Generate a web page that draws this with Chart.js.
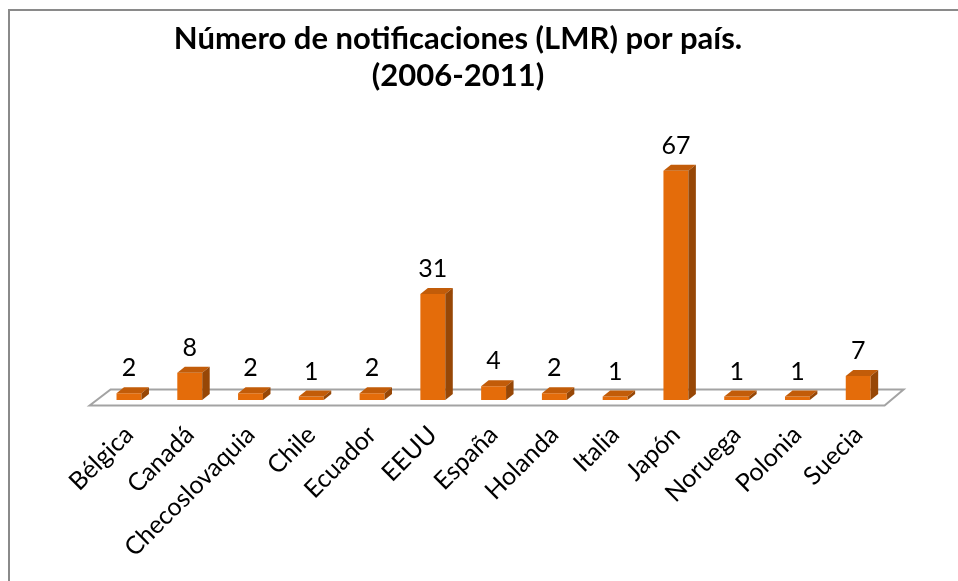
<!DOCTYPE html>
<html><head><meta charset="utf-8">
<script src="https://cdn.jsdelivr.net/npm/chart.js@4.4.1/dist/chart.umd.min.js"></script>
<style>html,body{margin:0;padding:0;background:#fff;overflow:hidden}</style>
</head><body>
<canvas id="c" width="958" height="581"></canvas>
<script>
// ---- data ----
const categories = ['Bélgica','Canadá','Checoslovaquia','Chile','Ecuador','EEUU','España','Holanda','Italia','Japón','Noruega','Polonia','Suecia'];
const values = [2, 8, 2, 1, 2, 31, 4, 2, 1, 67, 1, 1, 7];
const titleLines = ['Número de notificaciones (LMR) por país.', '(2006-2011)'];
const yMin = 0;
const yMax = 80;

// ---- style ----
const FONT = 'Lato, "Open Sans", sans-serif';
const frontColor = '#E46C0A';
const topColor = '#C25C09';
const sideColor = '#974706';
const depthX = 7.5, depthY = -6;

const frame = {
  id: 'frame',
  beforeDraw(chart) {
    const ctx = chart.ctx;
    ctx.save();
    ctx.fillStyle = '#fff';
    ctx.fillRect(0, 0, chart.width, chart.height);
    ctx.strokeStyle = '#8a8a8a';
    ctx.lineWidth = 2;
    ctx.strokeRect(9, 10, chart.width + 50, chart.height + 50);
    ctx.restore();
  }
};

const floor3d = {
  id: 'floor3d',
  beforeDatasetsDraw(chart) {
    const ctx = chart.ctx;
    const {left, right} = chart.chartArea;
    const base = chart.scales.y.getPixelForValue(0);
    ctx.save();
    ctx.strokeStyle = '#a3a3a3';
    ctx.lineWidth = 2;
    ctx.beginPath();
    ctx.moveTo(left - 9, base + 5.5);
    ctx.lineTo(left + 12, base - 10.5);
    ctx.lineTo(right + 15, base - 10.5);
    ctx.lineTo(right - 4, base + 5.5);
    ctx.closePath();
    ctx.stroke();
    ctx.restore();
  }
};

const bars3d = {
  id: 'bars3d',
  afterDatasetsDraw(chart) {
    const ctx = chart.ctx;
    const meta = chart.getDatasetMeta(0);
    ctx.save();
    meta.data.forEach((bar, i) => {
      const {x, y, base, width} = bar.getProps(['x', 'y', 'base', 'width'], true);
      const l = x - width / 2, r = x + width / 2;
      ctx.fillStyle = topColor;
      ctx.beginPath();
      ctx.moveTo(l, y); ctx.lineTo(l + depthX, y + depthY);
      ctx.lineTo(r + depthX, y + depthY); ctx.lineTo(r, y);
      ctx.closePath(); ctx.fill();
      ctx.fillStyle = sideColor;
      ctx.beginPath();
      ctx.moveTo(r, y); ctx.lineTo(r + depthX, y + depthY);
      ctx.lineTo(r + depthX, base + depthY); ctx.lineTo(r, base);
      ctx.closePath(); ctx.fill();
      ctx.fillStyle = '#000';
      ctx.font = '25px ' + FONT;
      ctx.textAlign = 'center';
      ctx.textBaseline = 'middle';
      ctx.fillText(String(values[i]), x, y + depthY - 19);
    });
    ctx.restore();
  }
};

new Chart(document.getElementById('c'), {
  type: 'bar',
  data: {
    labels: categories,
    datasets: [{
      data: values,
      backgroundColor: frontColor,
      borderWidth: 0,
      categoryPercentage: 1,
      barPercentage: 0.41
    }]
  },
  options: {
    responsive: false,
    animation: false,
    events: [],
    layout: { padding: { left: 0, right: 42, top: 0, bottom: 0 } },
    plugins: {
      legend: { display: false },
      tooltip: { enabled: false },
      title: {
        display: true,
        text: titleLines,
        color: '#000',
        font: { family: FONT, size: 31, weight: 'bold', lineHeight: 1.2 },
        padding: { top: 20, bottom: 32 }
      }
    },
    scales: {
      x: {
        grid: { display: false, drawTicks: false },
        border: { display: false },
        ticks: {
          color: '#000',
          font: { family: FONT, size: 25 },
          minRotation: 45, maxRotation: 45,
          autoSkip: false,
          padding: 20
        },
        afterFit(scale) {
          scale.paddingLeft = 98.6;
          scale.paddingRight = 69.4;
          scale.height = 181;
        }
      },
      y: { display: false, min: yMin, max: yMax }
    }
  },
  plugins: [frame, floor3d, bars3d]
});
</script>
</body></html>
